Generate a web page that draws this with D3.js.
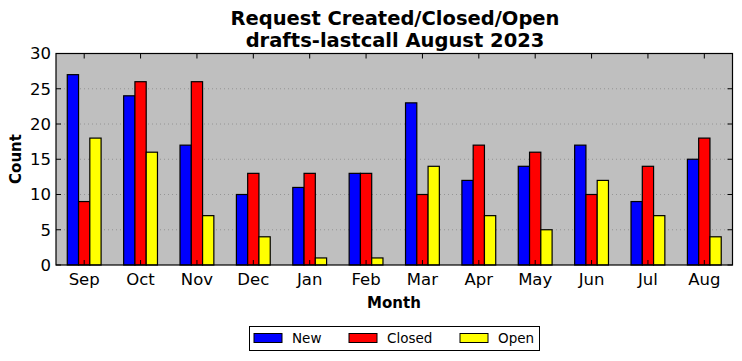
<!DOCTYPE html>
<html><head><meta charset="utf-8">
<script src="https://cdn.jsdelivr.net/npm/d3@7"></script>
<style>body{margin:0;background:#fff;}text{font-family:"DejaVu Sans",sans-serif;}</style>
</head><body><svg id="c" width="742" height="361"></svg>
<script>
const months = ["Sep","Oct","Nov","Dec","Jan","Feb","Mar","Apr","May","Jun","Jul","Aug"];
const seriesNames = ["New","Closed","Open"];
const seriesColors = ["#0000ff","#ff0000","#ffff00"];
const newVals    = [27,24,17,10,11,13,23,12,14,17,9,15];
const closedVals = [9,26,26,13,13,13,10,17,16,10,14,18];
const openVals   = [18,16,7,4,1,1,14,7,5,12,7,4];
const yTicks = [0,5,10,15,20,25,30];
const series = [newVals, closedVals, openVals];

const svg = d3.select("#c");
const L=56, R=732.5, T=53.5, B=265;
const x = d3.scaleLinear().domain([-0.5, 11.5]).range([L,R]);
const y = d3.scaleLinear().domain([0,30]).range([B,T]);

svg.append("rect").attr("x",L).attr("y",T).attr("width",R-L).attr("height",B-T).attr("fill","#bfbfbf");

// grid
svg.append("g").selectAll("line").data(yTicks.slice(1,-1)).join("line")
  .attr("x1",L).attr("x2",R).attr("y1",d=>y(d)).attr("y2",d=>y(d))
  .attr("stroke","#8a8a8a").attr("stroke-width",0.8).attr("stroke-dasharray","1,3");

// bars
const bw = 0.2;
series.forEach((vals,si)=>{
  svg.append("g").selectAll("rect").data(vals).join("rect")
    .attr("x",(d,i)=>x(i-0.3+si*bw))
    .attr("width",x(bw)-x(0))
    .attr("y",d=>y(d)).attr("height",d=>y(0)-y(d))
    .attr("fill",seriesColors[si]).attr("stroke","#000").attr("stroke-width",1.2);
});

// frame
svg.append("rect").attr("x",L).attr("y",T).attr("width",R-L).attr("height",B-T)
  .attr("fill","none").attr("stroke","#000").attr("stroke-width",1.2);

// ticks
const tk = svg.append("g");
months.forEach((m,i)=>{
  tk.append("line").attr("x1",x(i)).attr("x2",x(i)).attr("y1",B).attr("y2",B-5).attr("stroke","#000");
  tk.append("line").attr("x1",x(i)).attr("x2",x(i)).attr("y1",T).attr("y2",T+5).attr("stroke","#000");
  tk.append("text").attr("x",x(i)).attr("y",B+20).attr("text-anchor","middle").attr("font-size",16.5).text(m);
});
yTicks.forEach(v=>{
  tk.append("line").attr("x1",L).attr("x2",L+5).attr("y1",y(v)).attr("y2",y(v)).attr("stroke","#000");
  tk.append("line").attr("x1",R).attr("x2",R-5).attr("y1",y(v)).attr("y2",y(v)).attr("stroke","#000");
  tk.append("text").attr("x",L-5).attr("y",y(v)).attr("dy","0.36em").attr("text-anchor","end").attr("font-size",16.5).text(v);
});

// titles
svg.append("text").attr("x",395).attr("y",25).attr("text-anchor","middle").attr("font-size",19.5).attr("font-weight","bold").text("Request Created/Closed/Open");
svg.append("text").attr("x",395).attr("y",47).attr("text-anchor","middle").attr("font-size",19.5).attr("font-weight","bold").text("drafts-lastcall August 2023");
svg.append("text").attr("x",394).attr("y",308).attr("text-anchor","middle").attr("font-size",15).attr("font-weight","bold").text("Month");
svg.append("text").attr("transform","translate(21,159) rotate(-90)").attr("text-anchor","middle").attr("font-size",15).attr("font-weight","bold").text("Count");

// legend
const lg = svg.append("g");
lg.append("rect").attr("x",249.5).attr("y",326.5).attr("width",290).attr("height",24).attr("fill","#fff").attr("stroke","#000").attr("stroke-width",1);
const lx=[254,349,460];
seriesNames.forEach((n,i)=>{
  lg.append("rect").attr("x",lx[i]).attr("y",333.5).attr("width",28).attr("height",9).attr("fill",seriesColors[i]).attr("stroke","#000").attr("stroke-width",1);
  lg.append("text").attr("x",lx[i]+38).attr("y",343).attr("font-size",13.5).text(n);
});
</script></body></html>
